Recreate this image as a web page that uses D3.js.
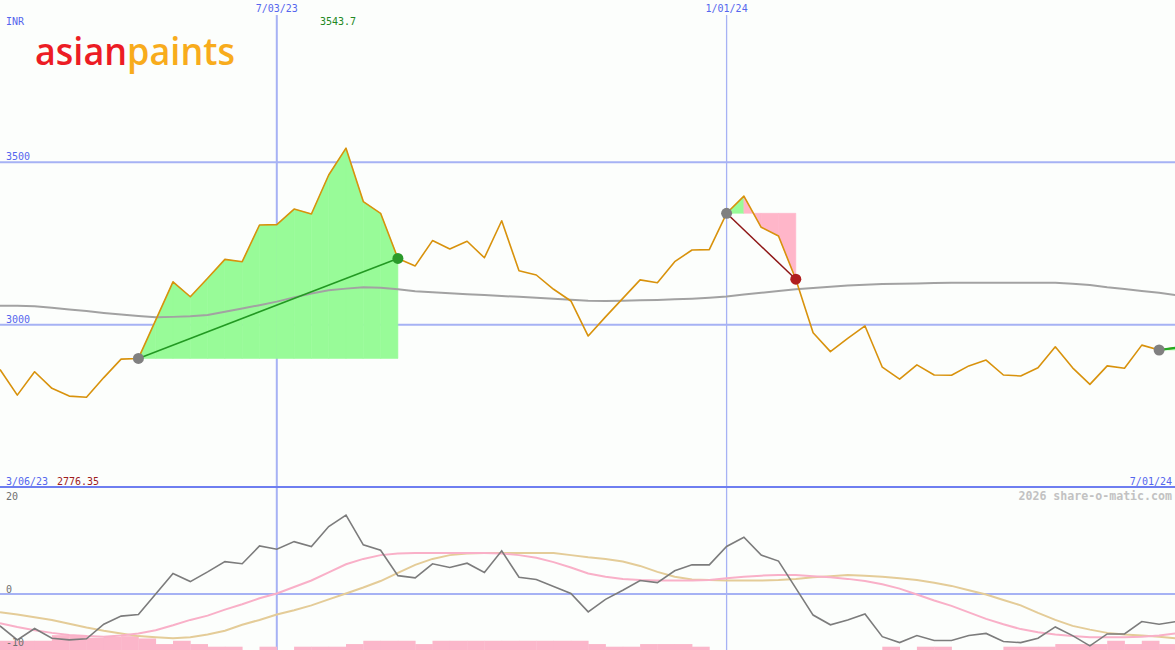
<!DOCTYPE html>
<html>
<head>
<meta charset="utf-8">
<script src="https://cdn.jsdelivr.net/npm/d3@7"></script>
<style>
  html, body { margin: 0; padding: 0; background: #fcfefc; }
  svg { display: block; }
  text { font-family: "DejaVu Sans Mono", monospace; font-size: 10px; }
</style>
</head>
<body>
<div id="chart"></div>
<script>
// weekly closes, Mar 13 2023 .. Jul 1 2024
const price = [
  2862, 2783, 2855, 2804, 2780, 2776.35, 2837, 2894, 2896, 3014,
  3132, 3086, 3143, 3201, 3194, 3307, 3308, 3356, 3341, 3461,
  3543.7, 3379, 3343, 3204, 3181, 3259, 3233, 3257, 3206, 3320,
  3166, 3153, 3109, 3073, 2965, 3024, 3081, 3138, 3129, 3194,
  3230, 3231, 3343, 3396, 3300, 3273, 3140, 2975, 2917, 2958,
  2996, 2869, 2832, 2876, 2845, 2844, 2873, 2891, 2845, 2842,
  2867, 2932, 2867, 2816, 2873, 2866, 2937, 2922, 2929
];
const longAvg = [
  3058, 3058, 3057, 3052, 3047, 3042, 3036, 3031, 3027, 3023,
  3024, 3026, 3030, 3040, 3050, 3060, 3071, 3084, 3096, 3106,
  3111, 3115, 3114, 3109, 3103, 3100, 3097, 3094, 3091, 3088,
  3086, 3083, 3080, 3077, 3074, 3073, 3074, 3075, 3076, 3078,
  3080, 3083, 3087, 3093, 3098, 3104, 3109, 3113, 3117, 3121,
  3123, 3125, 3126, 3127, 3128, 3129, 3129, 3129, 3129, 3129,
  3129, 3129, 3126, 3122, 3115, 3110, 3104, 3098, 3091
];
// lower panel: % deviation and its two averages
const deviation = [
  -5.9, -8.5, -6.4, -8.2, -8.5, -8.3, -5.6, -4.1, -3.8, 0.0,
  3.8, 2.3, 4.1, 6.0, 5.6, 8.9, 8.3, 9.7, 8.8, 12.5,
  14.6, 9.1, 8.1, 3.4, 3.0, 5.6, 4.9, 5.7, 4.0, 8.0,
  3.1, 2.7, 1.4, 0.1, -3.3, -1.0, 0.7, 2.5, 2.1, 4.3,
  5.4, 5.4, 8.8, 10.5, 7.2, 6.1, 1.1, -3.9, -5.7, -4.8,
  -3.7, -7.9, -9.0, -7.7, -8.6, -8.6, -7.7, -7.3, -8.8, -9.0,
  -8.2, -6.1, -7.7, -9.6, -7.4, -7.4, -5.1, -5.6, -5.1
];
const devFast = [
  -5.4, -6.1, -6.7, -7.2, -7.6, -7.8, -7.9, -7.7, -7.3, -6.7,
  -5.8, -4.8, -4.0, -2.9, -1.9, -0.8, 0.1, 1.3, 2.5, 4.0,
  5.5, 6.5, 7.2, 7.5, 7.6, 7.6, 7.6, 7.6, 7.6, 7.5,
  7.2, 6.7, 5.9, 4.9, 3.8, 3.2, 2.8, 2.6, 2.5, 2.5,
  2.5, 2.6, 2.9, 3.2, 3.4, 3.5, 3.5, 3.3, 3.1, 2.8,
  2.4, 1.8, 1.0, -0.1, -1.2, -2.2, -3.4, -4.6, -5.6, -6.5,
  -7.1, -7.5, -7.8, -8.0, -8.0, -8.0, -7.9, -7.7, -7.3
];
const devSlow = [
  -3.4, -3.8, -4.3, -4.8, -5.5, -6.2, -6.8, -7.3, -7.8, -8.0,
  -8.2, -8.0, -7.5, -6.8, -5.7, -4.8, -3.8, -3.0, -2.1, -1.0,
  0.1, 1.2, 2.4, 3.9, 5.4, 6.5, 7.2, 7.5, 7.6, 7.6,
  7.6, 7.6, 7.6, 7.2, 6.8, 6.5, 6.0, 5.2, 4.1, 3.2,
  2.7, 2.6, 2.5, 2.5, 2.5, 2.6, 2.8, 3.1, 3.3, 3.5,
  3.4, 3.2, 2.9, 2.6, 2.1, 1.5, 0.7, -0.1, -1.1, -2.1,
  -3.5, -4.8, -5.9, -6.6, -7.2, -7.5, -7.7, -7.9, -8.2
];
const volume = [
  2.8, 2.8, 2.8, 4.5, 4.5, 3.7, 4.0, 4.2, 3.5, 1.8,
  2.8, 1.8, 1.0, 1.0, 0, 1.0, 0, 1.0, 1.0, 1.0,
  1.8, 2.8, 2.8, 2.8, 1.8, 2.8, 2.8, 2.8, 2.8, 2.8,
  2.8, 2.8, 2.8, 2.8, 1.8, 1.0, 1.0, 1.8, 1.8, 1.8,
  1.0, 0, 0, 0, 0, 0, 0, 0, 0, 0,
  0, 1.0, 0, 1.0, 1.0, 0, 0, 0, 1.0, 1.0,
  1.0, 1.8, 1.8, 1.8, 2.8, 1.8, 2.8, 1.8, 0
];
const trades = [
  { from: 8, to: 23 },
  { from: 42, to: 46 },
  { from: 67, to: 68, open: true }
];
const priceTicks = [3000, 3500];
const devTicks = [20, 0, -10];
const dateMarks = [new Date(2023, 6, 3), new Date(2024, 0, 1)];
const fmtDate = d3.timeFormat('%-m/%d/%y');

const W = 1175, H = 650;
const weeks = d3.timeMonday.range(new Date(2023, 2, 13), new Date(2024, 6, 2));

const svg = d3.select('#chart').append('svg')
  .attr('width', W).attr('height', H);

const x = d3.scaleTime()
  .domain([weeks[0], weeks[weeks.length - 1]])
  .range([0, 1176.4]);
const y = d3.scaleLinear().domain([2500, 4000]).range([487, 0]);
const y2 = d3.scaleLinear().domain([-10, 20]).range([648, 486]);
const yVol = d3.scaleLinear().domain([0, 10]).range([650, 617]);

const grid = '#a6b2f4';
const ink = '#5566ee';

// grid
svg.selectAll('.hgrid').data(priceTicks)
  .join('line')
  .attr('x1', 0).attr('x2', W)
  .attr('y1', d => y(d)).attr('y2', d => y(d))
  .attr('stroke', grid).attr('stroke-width', 2);

svg.selectAll('.vgrid').data(dateMarks)
  .join('line')
  .attr('x1', d => x(d)).attr('x2', d => x(d))
  .attr('y1', 15).attr('y2', H)
  .attr('stroke', grid).attr('stroke-width', (d, i) => i === 0 ? 2 : 1.3);

svg.append('line')
  .attr('x1', 0).attr('x2', W)
  .attr('y1', y2(0)).attr('y2', y2(0))
  .attr('stroke', grid).attr('stroke-width', 2);

// trade fills, one piece per week so colour follows gain/loss
const segArea = d3.area()
  .x(i => x(weeks[i]))
  .y1(i => y(price[i]));

trades.forEach(t => {
  const base = y(price[t.from]);
  for (let k = t.from; k < t.to; k++) {
    const c = price[k + 1] >= price[t.from] ? '#98fb98' : '#ffb6c9';
    svg.append('path')
      .attr('d', segArea.y0(base)([k, k + 1]))
      .attr('fill', c)
      .attr('stroke', c).attr('stroke-width', 0.6);
  }
});

// lower panel bars
svg.selectAll('.vol').data(volume)
  .join('rect')
  .attr('x', (d, i) => x(weeks[i]))
  .attr('width', (d, i) => i < weeks.length - 1 ? x(weeks[i + 1]) - x(weeks[i]) + 0.4 : 17)
  .attr('y', d => yVol(d))
  .attr('height', d => yVol(0) - yVol(d))
  .attr('fill', '#fbb6ca');

const line = d3.line().x((d, i) => x(weeks[i]));

svg.append('path')
  .attr('d', line.y(d => y(d))(longAvg))
  .attr('fill', 'none').attr('stroke', '#a2a2a2').attr('stroke-width', 2);

svg.append('path')
  .attr('d', line.y(d => y(d))(price))
  .attr('fill', 'none').attr('stroke', '#d8920c').attr('stroke-width', 1.6)
  .attr('stroke-linejoin', 'round');

svg.append('path')
  .attr('d', line.y(d => y2(d))(devSlow))
  .attr('fill', 'none').attr('stroke', '#e4cc98').attr('stroke-width', 2);

svg.append('path')
  .attr('d', line.y(d => y2(d))(devFast))
  .attr('fill', 'none').attr('stroke', '#f9b0c8').attr('stroke-width', 2);

svg.append('path')
  .attr('d', line.y(d => y2(d))(deviation))
  .attr('fill', 'none').attr('stroke', '#7c7c7c').attr('stroke-width', 1.6);

// trade lines and markers
trades.forEach(t => {
  const win = price[t.to] >= price[t.from];
  svg.append('line')
    .attr('x1', x(weeks[t.from])).attr('y1', y(price[t.from]))
    .attr('x2', x(weeks[t.to])).attr('y2', y(price[t.to]))
    .attr('stroke', t.open ? '#22aa22' : (win ? '#229922' : '#8e1616'))
    .attr('stroke-width', t.open ? 2.2 : 1.5);
  svg.append('circle')
    .attr('cx', x(weeks[t.from])).attr('cy', y(price[t.from]))
    .attr('r', 5.5).attr('fill', '#808080');
  if (!t.open) {
    svg.append('circle')
      .attr('cx', x(weeks[t.to])).attr('cy', y(price[t.to]))
      .attr('r', 5.5).attr('fill', win ? '#2a9a2a' : '#b01e1e');
  }
});

// border between panels
svg.append('line')
  .attr('x1', 0).attr('x2', W)
  .attr('y1', 487).attr('y2', 487)
  .attr('stroke', '#6e7ef0').attr('stroke-width', 2);

// texts
svg.append('text').attr('x', 6).attr('y', 25).attr('fill', ink).text('INR');

svg.selectAll('.dlab').data(dateMarks)
  .join('text')
  .attr('x', d => x(d)).attr('y', 12)
  .attr('text-anchor', 'middle').attr('fill', ink)
  .text(d => fmtDate(d));

const hi = d3.maxIndex(price);
svg.append('text')
  .attr('x', x(weeks[hi]) + 10).attr('y', 25)
  .attr('text-anchor', 'end').attr('fill', '#228822')
  .text(price[hi]);

svg.selectAll('.plab').data(priceTicks)
  .join('text')
  .attr('x', 6).attr('y', d => y(d) - 2)
  .attr('fill', ink)
  .text(d => d);

svg.append('text').attr('x', 6).attr('y', 484.5).attr('fill', ink)
  .text(fmtDate(new Date(2023, 2, 6)));
svg.append('text').attr('x', 57).attr('y', 484.5).attr('fill', '#a01c1c')
  .text(d3.min(price));
svg.append('text').attr('x', 1172).attr('y', 484.5)
  .attr('text-anchor', 'end').attr('fill', ink)
  .text(fmtDate(weeks[weeks.length - 1]));

svg.append('text').attr('x', 1172).attr('y', 500)
  .attr('text-anchor', 'end').attr('fill', '#c2c2c2')
  .style('font-size', '11.6px').style('font-weight', 'bold')
  .text('2026 share-o-matic.com');

svg.selectAll('.ilab').data(devTicks)
  .join('text')
  .attr('x', 6)
  .attr('y', d => d === 20 ? 500 : d === -10 ? 646 : y2(d) - 1.5)
  .attr('fill', '#707070')
  .text(d => d);

// logo
const logo = svg.append('text')
  .attr('x', 35).attr('y', 65)
  .attr('textLength', 200).attr('lengthAdjust', 'spacingAndGlyphs')
  .style('font-family', '"Open Sans", sans-serif')
  .style('font-size', '37px').style('font-weight', 600);
logo.append('tspan').attr('fill', '#ec1c24').text('asian');
logo.append('tspan').attr('fill', '#f8ac1c').text('paints');
</script>
</body>
</html>
